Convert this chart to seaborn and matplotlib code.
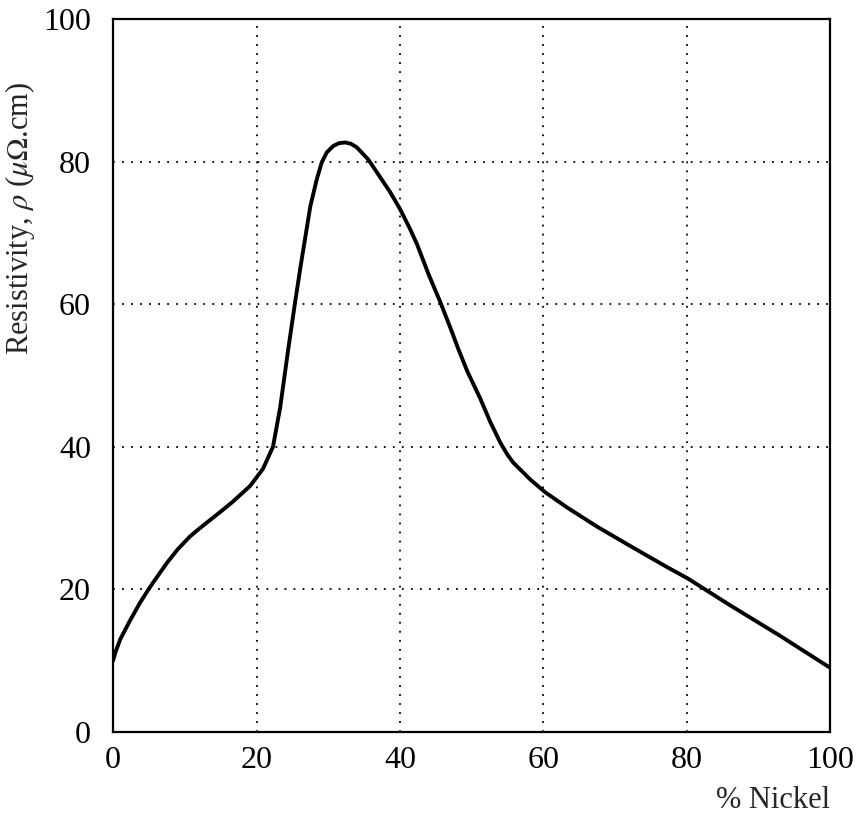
"""
Resistivity of Fe-Ni alloys vs. nickel content
"""

import pandas as pd
import matplotlib
matplotlib.use('Agg')
import matplotlib.pyplot as plt
import seaborn as sns

# curve
nickel_pct = [0, 0.3, 1, 2.4, 3.8, 5.2, 7.5, 9, 10.7, 12, 13.5, 15, 16.7, 19.1,
              20.9, 22.3, 23.3, 24.4, 25.4, 26.1, 27.5, 28.4, 29.1, 29.8, 30.7,
              31.5, 32.4, 33.2, 34, 35.6, 37.2, 38.6, 40, 41.4, 42.4, 44, 45.6,
              47, 48.2, 49.4, 51.2, 52.6, 54, 55, 55.8, 58.2, 60.3, 63.3, 67.5,
              72.1, 77.3, 80.2, 86, 93, 100]
resistivity = [10, 11.1, 13, 15.7, 18.2, 20.4, 23.7, 25.6, 27.4, 28.5, 29.7, 30.9,
               32.3, 34.5, 36.9, 40, 45.5, 53.5, 60.4, 65, 73.7, 77.5, 79.9, 81.3,
               82.2, 82.6, 82.7, 82.5, 82, 80.3, 77.9, 75.8, 73.4, 70.6, 68.4,
               64.2, 60.4, 56.8, 53.6, 50.6, 46.8, 43.5, 40.6, 38.9, 37.8, 35.4,
               33.6, 31.5, 28.8, 26.1, 23.1, 21.5, 17.8, 13.5, 9]
tick_values = [0, 20, 40, 60, 80, 100]

df = pd.DataFrame({'nickel': nickel_pct, 'rho': resistivity})

sns.set_style('white')
plt.rcParams['font.family'] = ['Liberation Serif', 'DejaVu Serif']
plt.rcParams['mathtext.fontset'] = 'stix'

fig = plt.figure(figsize=(8.57, 8.15), dpi=100)
ax = fig.add_axes([0.132, 0.102, 0.8365, 0.8745])

sns.lineplot(data=df, x='nickel', y='rho', sort=False, estimator=None,
             color='black', linewidth=2.8, ax=ax)

ax.set_xlim(0, 100)
ax.set_ylim(0, 100)
ax.set_xticks(tick_values)
ax.set_yticks(tick_values)
ax.tick_params(length=0, labelsize=23, colors='black')
ax.tick_params(axis='x', pad=10)
ax.tick_params(axis='y', pad=16)

ax.grid(True, color='black', linestyle=(0, (1, 4)), linewidth=1.3)
for s in ax.spines.values():
    s.set_color('black')
    s.set_linewidth(1.6)

ax.set_xlabel('% Nickel', fontsize=22, loc='right', labelpad=8)
ax.set_ylabel(r'Resistivity, $\rho$ ($\mu\Omega$.cm)', fontsize=22)
ax.yaxis.set_label_coords(-0.106, 0.72)

fig.savefig('out.png', dpi=100)
